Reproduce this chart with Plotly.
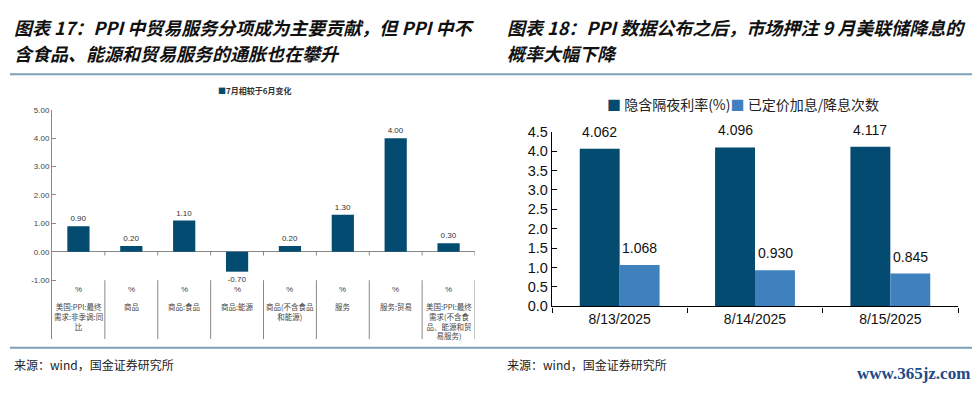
import plotly.graph_objects as go

W, H = 979, 395

# ---------------- data ----------------
left_series_name = "7月相较于6月变化"
left_categories = [
    "美国:PPI:最终<br>需求:非季调:同<br>比",
    "商品",
    "商品:食品",
    "商品:能源",
    "商品(不含食品<br>和能源)",
    "服务",
    "服务:贸易",
    "美国:PPI:最终<br>需求(不含食<br>品、能源和贸<br>易服务)",
]
left_units = ["%"] * 8
left_values = [0.90, 0.20, 1.10, -0.70, 0.20, 1.30, 4.00, 0.30]
left_yticks = [-1, 0, 1, 2, 3, 4, 5]

right_dates = ["8/13/2025", "8/14/2025", "8/15/2025"]
right_name1 = "隐含隔夜利率(%)"
right_name2 = "已定价加息/降息次数"
right_rate = [4.062, 4.096, 4.117]
right_cuts = [1.068, 0.930, 0.845]

title_left = ["图表 17：PPI 中贸易服务分项成为主要贡献，但 PPI 中不", "含食品、能源和贸易服务的通胀也在攀升"]
title_right = ["图表 18：PPI 数据公布之后，市场押注 9 月美联储降息的", "概率大幅下降"]
source_text = "来源：wind，国金证券研究所"
watermark = "www.365jz.com"

# ---------------- styles ----------------
DARK = "#034B70"
LIGHT = "#3F80BF"
CJK = "Noto Sans CJK SC"
SANS = "Liberation Sans, Arial"
SEP = "#7BA1B9"


def px(x):
    return x / W


def py(y):
    return 1 - y / H


fig = go.Figure()

# left chart
fig.add_trace(go.Bar(
    x=list(range(len(left_values))), y=left_values, width=0.42,
    marker=dict(color=DARK, line=dict(width=0)),
    text=[f"{v:.2f}" for v in left_values], textposition="outside",
    textfont=dict(size=8, color="#333", family=SANS), cliponaxis=False,
    xaxis="x", yaxis="y", name=left_series_name, showlegend=False,
))

# right chart
fig.add_trace(go.Bar(
    x=right_dates, y=right_rate, marker=dict(color=DARK, line=dict(width=0)),
    xaxis="x2", yaxis="y2", name=right_name1, showlegend=False,
))
fig.add_trace(go.Bar(
    x=right_dates, y=right_cuts, marker=dict(color=LIGHT, line=dict(width=0)),
    xaxis="x2", yaxis="y2", name=right_name2, showlegend=False,
))

ymin_left = -3.07
fig.update_layout(
    width=W, height=H, margin=dict(l=0, r=0, t=0, b=0),
    plot_bgcolor="white", paper_bgcolor="white",
    barmode="group", bargap=0.41, bargroupgap=0,
    xaxis=dict(domain=[px(52), px(475)], range=[-0.5, len(left_values) - 0.5],
               showticklabels=False, showline=False, showgrid=False, zeroline=False,
               ticks="", anchor="y"),
    yaxis=dict(domain=[py(345), py(106)], range=[ymin_left, 5.0],
               tickvals=left_yticks, ticktext=[f"{v:.2f}" for v in left_yticks],
               ticks="inside", ticklen=4, tickcolor="#888",
               showline=True, linecolor="#888", linewidth=1,
               zeroline=True, zerolinecolor="#888", zerolinewidth=1,
               showgrid=False, tickfont=dict(size=8, color="#444", family=SANS),
               anchor="x"),
    xaxis2=dict(domain=[px(552), px(958)], type="category", tickson="boundaries",
                ticks="outside", ticklen=5, tickcolor="#000",
                showline=True, linecolor="#000", linewidth=1.3, showgrid=False,
                tickfont=dict(size=14, color="#111", family=SANS), anchor="y2"),
    yaxis2=dict(domain=[py(311), py(129)], range=[0, 4.5], dtick=0.5, tickformat=".1f",
                ticks="inside", ticklen=5, tickcolor="#000",
                showline=True, linecolor="#000", linewidth=1.3, showgrid=False,
                zeroline=False, tickfont=dict(size=14.5, color="#111", family=SANS),
                anchor="x2"),
)

shapes = []
annotations = []

# left: boundary ticks under zero line and category dividers
n = len(left_values)
for i in range(n):
    xb = i + 0.5
    shapes.append(dict(type="line", xref="x", yref="y", x0=xb, x1=xb, y0=0, y1=-0.13,
                       line=dict(color="#888", width=1)))
    shapes.append(dict(type="line", xref="x", yref="y", x0=xb, x1=xb, y0=-1, y1=ymin_left,
                       line=dict(color="#888", width=1)))
for i, (u, c) in enumerate(zip(left_units, left_categories)):
    annotations.append(dict(xref="x", yref="paper", x=i, y=py(293), text=u,
                            showarrow=False, xanchor="center", yanchor="middle",
                            font=dict(size=8, color="#444", family=SANS)))
    annotations.append(dict(xref="x", yref="paper", x=i, y=py(303), text=c,
                            showarrow=False, xanchor="center", yanchor="top", align="center",
                            font=dict(size=7.5, color="#444", family=CJK)))

# right data labels
for d, v in zip(right_dates, right_rate):
    annotations.append(dict(xref="x2", yref="y2", x=d, y=v, xshift=-20, yshift=7,
                            text=f"{v:.3f}", showarrow=False, yanchor="bottom",
                            font=dict(size=14, color="#111", family=SANS)))
for d, v in zip(right_dates, right_cuts):
    annotations.append(dict(xref="x2", yref="y2", x=d, y=v, xshift=20, yshift=7,
                            text=f"{v:.3f}", showarrow=False, yanchor="bottom",
                            font=dict(size=14, color="#111", family=SANS)))

# legends (as text)
annotations.append(dict(xref="paper", yref="paper", x=px(255), y=py(86),
                        text=f"<span style='color:{DARK}'>■</span><b>{left_series_name}</b>",
                        showarrow=False, xanchor="center", yanchor="middle",
                        font=dict(size=8, color="#333", family=CJK)))
annotations.append(dict(xref="paper", yref="paper", x=px(743), y=py(100),
                        text=f"<span style='color:{DARK}'>■</span> {right_name1}"
                             f"<span style='color:{LIGHT}'>■</span> {right_name2}",
                        showarrow=False, xanchor="center", yanchor="middle",
                        font=dict(size=14, color="#222", family=CJK)))

# titles
for xpos, lines, fs in ((12, title_left, 18), (505, title_right, 18)):
    for ypos, line in zip((20, 47), lines):
        annotations.append(dict(xref="paper", yref="paper", x=px(xpos), y=py(ypos),
                                text=f"<b><i>{line}</i></b>", showarrow=False,
                                xanchor="left", yanchor="middle",
                                font=dict(size=fs, color="#111", family=CJK)))

# sources
for xpos in (12, 505):
    annotations.append(dict(xref="paper", yref="paper", x=px(xpos), y=py(372),
                            text=source_text, showarrow=False, xanchor="left",
                            yanchor="middle", font=dict(size=12, color="#222", family=CJK)))

annotations.append(dict(xref="paper", yref="paper", x=px(972), y=py(381), text=f"<b>{watermark}</b>",
                        showarrow=False, xanchor="right", yanchor="middle",
                        font=dict(size=17, color="#1D4A88", family="Liberation Serif")))

# separator lines
for yl in (69, 354):
    shapes.append(dict(type="line", xref="paper", yref="paper", x0=px(10), x1=px(972),
                       y0=py(yl), y1=py(yl), line=dict(color=SEP, width=2)))

fig.update_layout(shapes=shapes, annotations=annotations)
fig.write_html(
    "out.html",
    config={"displayModeBar": False},
    post_script="document.body.style.margin='0';document.body.style.overflow='hidden';",
)
